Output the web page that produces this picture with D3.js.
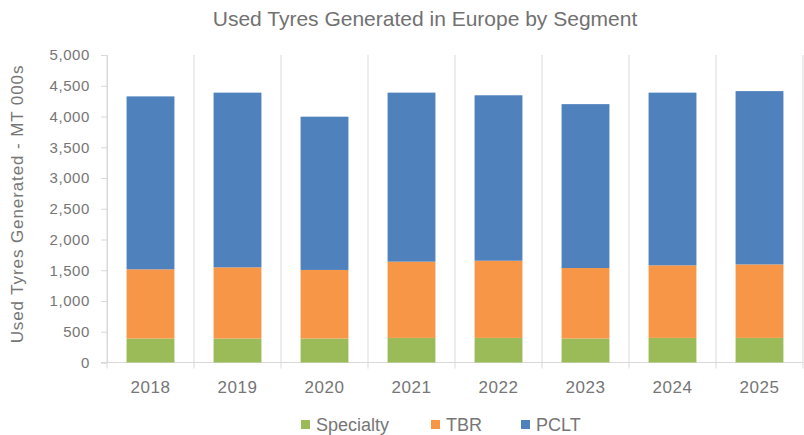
<!DOCTYPE html>
<html>
<head>
<meta charset="utf-8">
<script src="https://cdn.jsdelivr.net/npm/d3@7"></script>
<style>
  body { margin: 0; background: #fff; }
  text { font-family: "Liberation Sans", Arial, sans-serif; fill: #767676; }
</style>
</head>
<body>
<script>
var years = ["2018", "2019", "2020", "2021", "2022", "2023", "2024", "2025"];
var specialty = [390, 390, 390, 400, 400, 390, 400, 400];
var tbr = [1125, 1157, 1115, 1240, 1255, 1146, 1180, 1195];
var pclt = [2812, 2841, 2492, 2748, 2690, 2665, 2808, 2818];
var seriesNames = ["Specialty", "TBR", "PCLT"];
var colors = ["#9BBB59", "#F79646", "#4F81BD"];
var yTicks = [0, 500, 1000, 1500, 2000, 2500, 3000, 3500, 4000, 4500, 5000];

var width = 804, height = 435;
var margin = {top: 55, right: 1, bottom: 73, left: 107};

var svg = d3.select("body").append("svg")
    .attr("width", width)
    .attr("height", height);

var rows = years.map(function(y, i){
  return {year: y, Specialty: specialty[i], TBR: tbr[i], PCLT: pclt[i]};
});
var stack = d3.stack().keys(seriesNames)(rows);

var x = d3.scaleBand()
    .domain(years)
    .range([margin.left, width - margin.right])
    .paddingInner(0.45)
    .paddingOuter(0.225);

var y = d3.scaleLinear()
    .domain([0, 5000])
    .range([height - margin.bottom + 0.5, margin.top]);

// title
svg.append("text")
    .attr("x", 425)
    .attr("y", 26)
    .attr("text-anchor", "middle")
    .style("font-size", "21px")
    .style("fill", "#717171")
    .text("Used Tyres Generated in Europe by Segment");

// vertical category gridlines
var step = x.step();
var edges = d3.range(years.length + 1).map(function(i){ return margin.left + i * step; });
svg.append("g").selectAll("line")
    .data(edges).enter()
    .append("line")
    .attr("x1", function(d){ return d; })
    .attr("x2", function(d){ return d; })
    .attr("y1", margin.top)
    .attr("y2", y(0) + 6)
    .attr("stroke", "#d9d9d9")
    .attr("stroke-width", 1);

// y axis
var yAxis = svg.append("g")
    .attr("transform", "translate(" + margin.left + ",0)")
    .call(d3.axisLeft(y).tickValues(yTicks).tickFormat(d3.format(",")).tickSize(6).tickPadding(11));
yAxis.select(".domain").attr("stroke", "#d9d9d9");
yAxis.selectAll(".tick line").attr("stroke", "#d9d9d9");
yAxis.selectAll("text")
    .style("font-size", "15px")
    .style("letter-spacing", "0.6px")
    .style("fill", "#767676");

// x axis line
svg.append("line")
    .attr("x1", margin.left - 6)
    .attr("x2", width - margin.right)
    .attr("y1", y(0))
    .attr("y2", y(0))
    .attr("stroke", "#d9d9d9");

// x labels
svg.append("g").selectAll("text")
    .data(years).enter()
    .append("text")
    .attr("x", function(d){ return x(d) + x.bandwidth() / 2; })
    .attr("y", 393)
    .attr("text-anchor", "middle")
    .style("font-size", "17px")
    .style("letter-spacing", "0.5px")
    .text(function(d){ return d; });

// bars
svg.append("g").selectAll("g")
    .data(stack).enter()
    .append("g")
    .attr("fill", function(d, i){ return colors[i]; })
    .selectAll("rect")
    .data(function(d){ return d; }).enter()
    .append("rect")
    .attr("x", function(d){ return x(d.data.year); })
    .attr("y", function(d){ return y(d[1]); })
    .attr("width", x.bandwidth())
    .attr("height", function(d){ return y(d[0]) - y(d[1]); });

// y label
svg.append("text")
    .attr("transform", "translate(23,204) rotate(-90)")
    .attr("text-anchor", "middle")
    .style("font-size", "17px")
    .style("letter-spacing", "0.9px")
    .text("Used Tyres Generated - MT 000s");

// legend
var legendX = [301, 431, 521];
var legend = svg.append("g").selectAll("g")
    .data(seriesNames).enter()
    .append("g")
    .attr("transform", function(d, i){ return "translate(" + legendX[i] + ",420)"; });
legend.append("rect")
    .attr("width", 9)
    .attr("height", 9)
    .attr("fill", function(d, i){ return colors[i]; });
legend.append("text")
    .attr("x", 15)
    .attr("y", 11)
    .style("font-size", "18px")
    .text(function(d){ return d; });
</script>
</body>
</html>
